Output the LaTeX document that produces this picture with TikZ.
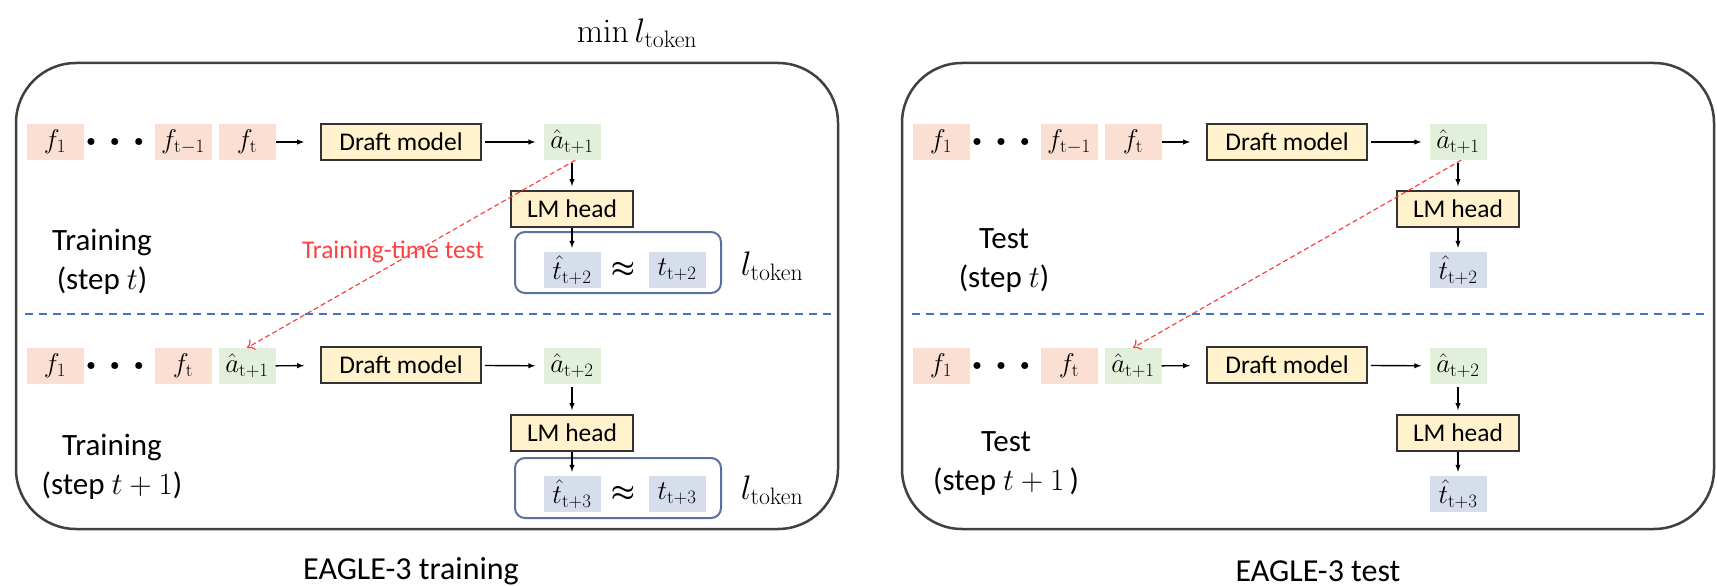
\RequirePackage{fix-cm}
\documentclass[tikz,border=0pt]{standalone}
\usepackage{amsmath}
\usepackage[no-math]{fontspec}
\setmainfont{Carlito}
\usepackage{tikz}
\usetikzlibrary{arrows.meta}

\definecolor{featpink}{RGB}{250,223,210}
\definecolor{guessgreen}{RGB}{226,239,218}
\definecolor{tokenblue}{RGB}{214,222,236}
\definecolor{blockyellow}{RGB}{255,242,204}
\definecolor{lossedge}{RGB}{88,114,160}
\definecolor{splitblue}{RGB}{68,114,196}
\definecolor{reusered}{RGB}{255,64,64}

\begin{document}
\begin{tikzpicture}
[
  x = 1pt, y = -1pt,
  cell/.style     = {shape=rectangle, minimum width=57pt, minimum height=36pt,
                     inner sep=0pt, font=\fontsize{27}{30}\selectfont},
  feat/.style     = {cell, fill=featpink},
  guess/.style    = {cell, fill=guessgreen},
  token/.style    = {cell, fill=tokenblue},
  dots/.style     = {font=\fontsize{18}{20}\selectfont},
  block/.style    = {shape=rectangle, draw=black!80, line width=1.8pt,
                     fill=blockyellow, minimum height=36pt, inner sep=0pt,
                     font=\fontsize{25.5}{30}\selectfont},
  draft/.style    = {block, minimum width=160pt},
  head/.style     = {block, minimum width=122pt},
  panel/.style    = {draw=black!75, line width=2.5pt, rounded corners=60pt},
  lossbox/.style  = {draw=lossedge, line width=2pt, rounded corners=10pt},
  split/.style    = {draw=splitblue, line width=2pt, dash pattern=on 8pt off 6pt},
  phase/.style    = {align=center, font=\fontsize{31}{39}\selectfont},
  caption/.style  = {font=\fontsize{32}{38}\selectfont},
  loss/.style     = {font=\fontsize{34}{38}\selectfont},
  approx/.style   = {font=\fontsize{27}{30}\selectfont},
  flow/.style     = {draw, -latex, line width=1.4pt},
  reuse/.style    = {draw=reusered, -{To[length=7pt,width=12pt]}, line width=1.2pt,
                     dash pattern=on 5pt off 3pt},
  reuselabel/.style = {text=reusered, font=\fontsize{25.5}{30}\selectfont}
]
\useasboundingbox (0,0) rectangle (1717,586);

\node [loss] (title) at (637,33) {$\min l_{\mathrm{token}}$};

% EAGLE-3 training
\draw [panel] (16,63) rectangle (838,529);
\draw [split] (25,314) -- (831,314);

\node [feat] (tr1-f1) at (55,142) {$f_1$};
\node [dots] (tr1-dots) at (115,142) {$\bullet\hspace{11pt}\bullet\hspace{11pt}\bullet$};
\node [feat] (tr1-fp) at (183,142) {$f_{\mathrm{t-1}}$};
\node [feat] (tr1-ft) at (247,142) {$f_{\mathrm{t}}$};
\node [draft] (tr1-draft) at (401,142) {Draft model};
\node [guess] (tr1-a) at (572,142) {$\hat{a}_{\mathrm{t+1}}$};
\node [head] (tr1-head) at (572,209) {LM head};
\draw [lossbox] (515,232) rectangle (721,293);
\node [token] (tr1-th) at (572,270) {$\hat{t}_{\mathrm{t+2}}$};
\node [approx] (tr1-approx) at (623,270) {$\boldsymbol{\approx}$};
\node [token] (tr1-t) at (677,270) {$t_{\mathrm{t+2}}$};
\node [loss] (tr1-l) at (772,266) {$l_{\mathrm{token}}$};
\node [phase] (tr1-name) at (102,262) {Training\\(step $t$)};

\node [feat] (tr2-f1) at (55,366) {$f_1$};
\node [dots] (tr2-dots) at (115,366) {$\bullet\hspace{11pt}\bullet\hspace{11pt}\bullet$};
\node [feat] (tr2-ft) at (183,366) {$f_{\mathrm{t}}$};
\node [guess] (tr2-a0) at (247,366) {$\hat{a}_{\mathrm{t+1}}$};
\node [draft] (tr2-draft) at (401,365) {Draft model};
\node [guess] (tr2-a) at (572,366) {$\hat{a}_{\mathrm{t+2}}$};
\node [head] (tr2-head) at (572,433) {LM head};
\draw [lossbox] (515,458) rectangle (721,518);
\node [token] (tr2-th) at (572,494) {$\hat{t}_{\mathrm{t+3}}$};
\node [approx] (tr2-approx) at (623,494) {$\boldsymbol{\approx}$};
\node [token] (tr2-t) at (677,494) {$t_{\mathrm{t+3}}$};
\node [loss] (tr2-l) at (772,490) {$l_{\mathrm{token}}$};
\node [phase] (tr2-name) at (112,467) {Training\\(step $t+1$)};

\draw [flow, shorten >=16pt] (tr1-ft) -- (tr1-draft);
\draw [flow, shorten <=3pt, shorten >=8pt] (tr1-draft) -- (tr1-a);
\draw [flow, shorten <=3pt, shorten >=4pt] (tr1-a) -- (tr1-head);
\draw [flow, shorten >=4pt] (tr1-head) -- (tr1-th);
\draw [flow, shorten >=16pt] (tr2-a0) -- (tr2-draft);
\draw [flow, shorten <=3pt, shorten >=8pt] (tr2-draft) -- (tr2-a);
\draw [flow, shorten <=3pt, shorten >=4pt] (tr2-a) -- (tr2-head);
\draw [flow, shorten >=4pt] (tr2-head) -- (tr2-th);
\draw [reuse] (tr1-a.-80) -- (tr2-a0.north);
\node [reuselabel] (tr-reuse) at (393,252) {Training-time test};

\node [caption] (tr-caption) at (411,571) {EAGLE-3 training};

% EAGLE-3 test
\draw [panel] (902,63) rectangle (1714,529);
\draw [split] (912,314) -- (1710,314);

\node [feat] (te1-f1) at (941,142) {$f_1$};
\node [dots] (te1-dots) at (1001,142) {$\bullet\hspace{11pt}\bullet\hspace{11pt}\bullet$};
\node [feat] (te1-fp) at (1069,142) {$f_{\mathrm{t-1}}$};
\node [feat] (te1-ft) at (1133,142) {$f_{\mathrm{t}}$};
\node [draft] (te1-draft) at (1287,142) {Draft model};
\node [guess] (te1-a) at (1458,142) {$\hat{a}_{\mathrm{t+1}}$};
\node [head] (te1-head) at (1458,209) {LM head};
\node [token] (te1-th) at (1458,270) {$\hat{t}_{\mathrm{t+2}}$};
\node [phase] (te1-name) at (1004,261) {Test\\(step $t$)};

\node [feat] (te2-f1) at (941,366) {$f_1$};
\node [dots] (te2-dots) at (1001,366) {$\bullet\hspace{11pt}\bullet\hspace{11pt}\bullet$};
\node [feat] (te2-ft) at (1069,366) {$f_{\mathrm{t}}$};
\node [guess] (te2-a0) at (1133,366) {$\hat{a}_{\mathrm{t+1}}$};
\node [draft] (te2-draft) at (1287,365) {Draft model};
\node [guess] (te2-a) at (1458,366) {$\hat{a}_{\mathrm{t+2}}$};
\node [head] (te2-head) at (1458,433) {LM head};
\node [token] (te2-th) at (1458,494) {$\hat{t}_{\mathrm{t+3}}$};
\node [phase] (te2-name) at (1006,464) {Test\\(step $t+1$\,)};

\draw [flow, shorten >=16pt] (te1-ft) -- (te1-draft);
\draw [flow, shorten <=3pt, shorten >=8pt] (te1-draft) -- (te1-a);
\draw [flow, shorten <=3pt, shorten >=4pt] (te1-a) -- (te1-head);
\draw [flow, shorten >=4pt] (te1-head) -- (te1-th);
\draw [flow, shorten >=16pt] (te2-a0) -- (te2-draft);
\draw [flow, shorten <=3pt, shorten >=8pt] (te2-draft) -- (te2-a);
\draw [flow, shorten <=3pt, shorten >=4pt] (te2-a) -- (te2-head);
\draw [flow, shorten >=4pt] (te2-head) -- (te2-th);
\draw [reuse] (te1-a.-80) -- (te2-a0.north);

\node [caption] (te-caption) at (1318,571) {EAGLE-3 test};
\end{tikzpicture}
\end{document}
